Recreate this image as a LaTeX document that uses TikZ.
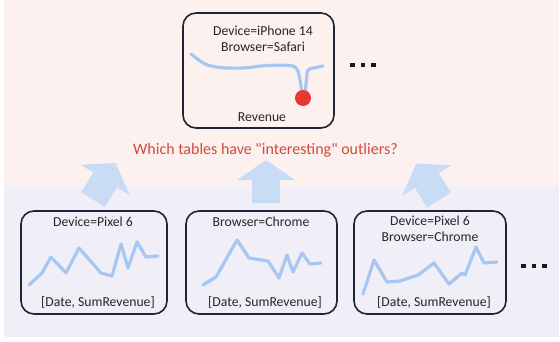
\documentclass[tikz,border=0pt]{standalone}
\usepackage{fontspec}
\setmainfont{Carlito}
\newfontfamily\titlefont{Carlito}[Ligatures=TeXOff]
\definecolor{bgpink}{HTML}{FCF1EF}
\definecolor{bglav}{HTML}{F0EFF8}
\definecolor{arrowblue}{HTML}{C9DCF6}
\definecolor{lineblue}{HTML}{A8C6F2}
\definecolor{boxedge}{HTML}{1E2636}
\definecolor{titlered}{HTML}{D24B3B}
\definecolor{dotred}{HTML}{E8392E}
\tikzset{
  panel/.style={draw=boxedge, line width=1.6pt, rounded corners=13pt, fill=none},
  lbl/.style={font=\fontsize{13.7}{16}\selectfont, align=center, inner sep=0pt, text=black!85},
  series/.style={lineblue, line width=3.2pt, line join=round, line cap=round},
  blockarrow/.style={fill=arrowblue},
}
\newcommand\fatarrow[3]{%
  \begin{scope}[shift={(#1,#2)}, rotate=#3]
    \fill[blockarrow] (-14,0) -- (-14,-23) -- (-29,-23) -- (0,-43) -- (29,-23) -- (14,-23) -- (14,0) -- cycle;
  \end{scope}}
\newcommand\threedots[2]{%
  \fill[black!90] (#1-13,#2-2.3) rectangle ++(4.6,4.6);
  \fill[black!90] (#1-2.3,#2-2.3) rectangle ++(4.6,4.6);
  \fill[black!90] (#1+8.4,#2-2.3) rectangle ++(4.6,4.6);}
\begin{document}
\begin{tikzpicture}[x=1pt,y=-1pt]
\useasboundingbox (0,0) rectangle (560,341);
% backgrounds
\fill[bgpink] (4,0) rectangle (559,186);
\fill[bglav] (4,186) rectangle (559,337);
% top panel
\node[panel, minimum width=151pt, minimum height=115pt, inner sep=0pt] (topbox) at (258.5,70.5) {};
\node[lbl] (toplbl) at (263,39) {Device=iPhone 14\\Browser=Safari};
\node[lbl] (toprev) at (262,117) {Revenue};
\draw[series] plot[smooth, tension=0.5] coordinates {(191,54) (205,64) (220,67.5) (243,68) (267,65.5) (290,65.5) (297,69) (300,80) (302,93)};
\draw[series] plot[smooth, tension=0.5] coordinates {(305,93) (306.5,80) (308,70) (316,67.5) (323,66)};
\node[circle, fill=dotred, minimum size=16pt, inner sep=0pt] (outlier) at (303,98) {};
\threedots{363}{65}
% title
\node[font=\titlefont\fontsize{16}{18}\selectfont, text=titlered, inner sep=0pt] (title) at (265.5,150) {Which tables have "interesting" outliers?};
% arrows
\fatarrow{93}{199.5}{-32}
\fatarrow{266}{203}{0}
\fatarrow{439}{200}{32}
% bottom panels
\node[panel, minimum width=146pt, minimum height=103pt, inner sep=0pt] (b1) at (94,262.5) {};
\node[panel, minimum width=151pt, minimum height=103pt, inner sep=0pt] (b2) at (261.5,262.5) {};
\node[panel, minimum width=152pt, minimum height=103pt, inner sep=0pt] (b3) at (430,262.5) {};
\node[lbl] (b1t) at (93,222) {Device=Pixel 6};
\node[lbl] (b2t) at (261,222) {Browser=Chrome};
\node[lbl] (b3t) at (430,228.5) {Device=Pixel 6\\Browser=Chrome};
\node[lbl] (b1c) at (98,302) {[Date, SumRevenue]};
\node[lbl] (b2c) at (265,302) {[Date, SumRevenue]};
\node[lbl] (b3c) at (434,302) {[Date, SumRevenue]};
\draw[series] (29,285) -- (42,273) -- (51,257) -- (66,273) -- (79,248) -- (101,273) -- (112,276) -- (121,244) -- (128,268) -- (137,242) -- (146,257) -- (158,256);
\draw[series] (203,285) -- (216,277) -- (237,240) -- (249,258) -- (268,261) -- (279,278) -- (287,255) -- (293,272) -- (302,253) -- (310,264) -- (321,263);
\draw[series] (363,294) -- (374,260) -- (387,282) -- (400,281) -- (418,275) -- (434,263) -- (449,284) -- (462,273) -- (465,275) -- (476,247) -- (484,263) -- (497,262);
\threedots{534}{266}
\end{tikzpicture}
\end{document}
